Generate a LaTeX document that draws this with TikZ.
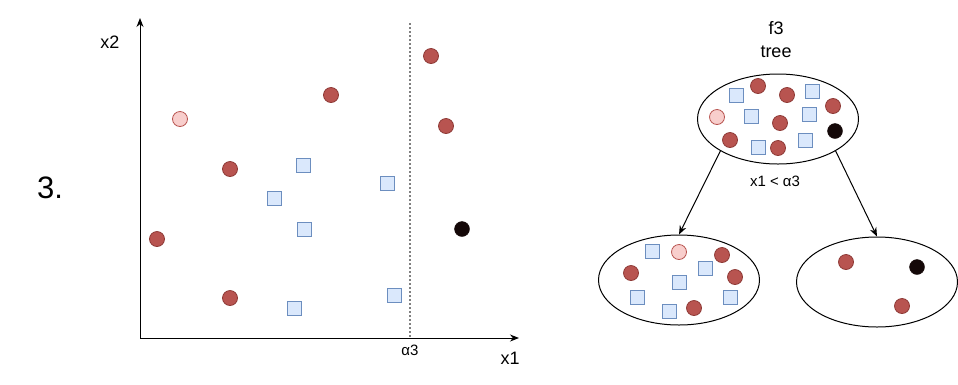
\documentclass[tikz,border=0pt]{standalone}
\usepackage{fontspec}
\setmainfont{Liberation Sans}
\usetikzlibrary{arrows.meta,positioning,shapes.geometric}
\definecolor{ptRed}{HTML}{B85450}
\definecolor{ptRedDark}{HTML}{8E3A36}
\definecolor{ptPink}{HTML}{F8CECC}
\definecolor{ptBlue}{HTML}{DAE8FC}
\definecolor{ptBlueDark}{HTML}{6C8EBF}
\definecolor{ptBlack}{HTML}{140808}

\begin{document}
\begin{tikzpicture}[x=1pt, y=-1pt,
    rc/.style={circle, draw=ptRedDark, fill=ptRed, line width=0.8pt, minimum size=15pt, inner sep=0pt},
    pc/.style={circle, draw=ptRed, fill=ptPink, line width=0.8pt, minimum size=15pt, inner sep=0pt},
    bc/.style={circle, draw=ptBlack, fill=ptBlack, minimum size=15pt, inner sep=0pt},
    sq/.style={rectangle, draw=ptBlueDark, fill=ptBlue, line width=0.8pt, minimum size=14pt, inner sep=0pt},
    set/.style={ellipse, draw, line width=1pt, minimum width=161pt, minimum height=90pt, inner sep=0pt},
    lbl/.style={font=\fontsize{18}{23}\selectfont, align=center},
    sm/.style={font=\fontsize{15}{18}\selectfont},
    arr/.style={-{Stealth[length=9pt, width=7pt]}, line width=1pt}]
  \useasboundingbox (0,0) rectangle (958,384);

  % number
  \node[font=\fontsize{31}{36}\selectfont] (num) at (50,188) {3.};

  % axes of the feature plane
  \coordinate (o) at (140,338);
  \coordinate (yt) at (140,18);
  \coordinate (xt) at (519,338);
  \draw[arr] (o) -- (yt);
  \draw[arr] (o) -- (xt);
  \node[lbl] (x2) at (110,42) {x2};
  \node[lbl] (x1) at (510,358) {x1};

  % split line
  \coordinate (st) at (410,23);
  \coordinate (sb) at (410,338);
  \draw[gray, dash pattern=on 2pt off 2pt, line width=1.5pt] (st) -- (sb);
  \node[sm] (a3) at (410,350) {α3};

  % points
  \foreach \px/\py [count=\i] in {431/56, 331/95, 446/126, 230/169, 157/239, 230/298}
    \node[rc] (r\i) at (\px,\py) {};
  \node[pc] (p1) at (180,119) {};
  \node[bc] (k1) at (462,229) {};
  \foreach \px/\py [count=\i] in {303/165, 387/183, 274/198, 304/229, 294/308, 394/295}
    \node[sq] (s\i) at (\px,\py) {};

  % tree
  \node[lbl] (title) at (776,40) {f3\\tree};
  \node[set] (root) at (778,119) {};
  \node[set] (left) at (679,280) {};
  \node[set] (right) at (877,282) {};
  \draw[arr] (root.209) -- (left.north);
  \draw[arr] (root.-29) -- (right.north);
  \node[sm] (cond) at (775,181) {x1 < α3};

  % root contents
  \foreach \px/\py [count=\i] in {758/86, 787/95, 833/106, 780/123, 730/140, 778/148}
    \node[rc] (tr\i) at (\px,\py) {};
  \node[pc] (tp1) at (717,117) {};
  \node[bc] (tk1) at (835,131) {};
  \foreach \px/\py [count=\i] in {736/95, 812/91, 751/116, 809/114, 758/147, 805/140}
    \node[sq] (ts\i) at (\px,\py) {};

  % left leaf
  \foreach \px/\py [count=\i] in {722/255, 631/273, 735/277, 694/308}
    \node[rc] (lr\i) at (\px,\py) {};
  \node[pc] (lp1) at (679,252) {};
  \foreach \px/\py [count=\i] in {652/251, 705/268, 679/282, 637/297, 730/297, 669/311}
    \node[sq] (ls\i) at (\px,\py) {};

  % right leaf
  \node[rc] (rr1) at (846,262) {};
  \node[rc] (rr2) at (902,306) {};
  \node[bc] (rk1) at (917,267) {};
\end{tikzpicture}
\end{document}
